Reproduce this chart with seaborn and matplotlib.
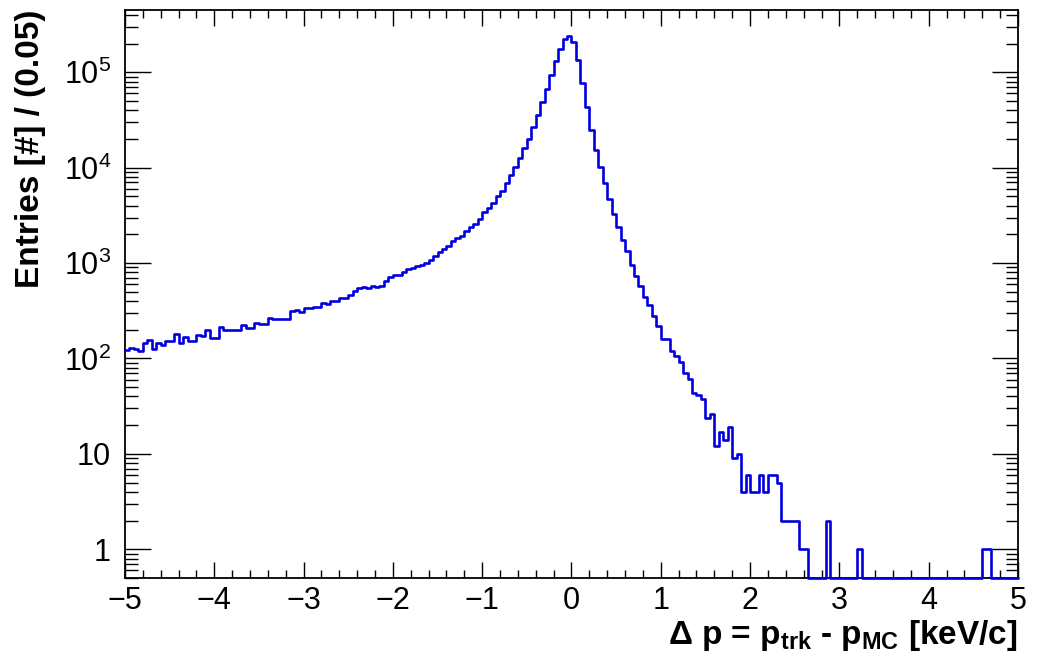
import numpy as np
import pandas as pd
import matplotlib
matplotlib.use("Agg")
import matplotlib.pyplot as plt
import seaborn as sns
from matplotlib.ticker import (MultipleLocator, FixedLocator, FixedFormatter,
                               LogLocator, NullFormatter)

# ---------------- data ----------------
bin_low, bin_high, n_bins = -5.0, 5.0, 200

# bins 0-51  (-5.00 .. -2.40)
counts_left = [124, 130, 126, 119, 146, 158, 127, 146, 140, 152,
               152, 181, 146, 169, 154, 154, 177, 171, 200, 162,
               162, 213, 201, 201, 201, 198, 225, 211, 211, 237,
               231, 231, 267, 262, 262, 262, 262, 313, 321, 305,
               340, 340, 345, 345, 383, 370, 405, 405, 432, 432,
               460, 515]
# bins 52-101 (-2.40 .. 0.10)
counts_core = [550, 564, 550, 581, 568, 572, 645, 717, 746, 758,
               809, 869, 883, 942, 949, 1005, 1088, 1180, 1310, 1410,
               1525, 1720, 1835, 1940, 2150, 2390, 2575, 2905, 3405, 3785,
               4270, 5010, 5650, 6920, 8300, 10070, 12600, 16060, 20100, 26700,
               35900, 48300, 67100, 94100, 132000, 175000, 221000, 239000, 207000, 133000]
# bins 102-199 (0.10 .. 5.00)
counts_right = [78000, 43000, 25000, 15400, 10150, 6900, 4730, 3300, 2390, 1760,
                1350, 965, 728, 572, 443, 360, 278, 218, 161, 161,
                119, 106, 92, 70, 61, 44, 41, 38, 24, 26,
                12, 17, 14, 19, 9, 10, 4, 6, 4, 4,
                6, 4, 6, 6, 5, 2, 2, 2, 2, 1,
                1, 0, 0, 0, 0, 2, 0, 0, 0, 0,
                0, 0, 1, 0, 0, 0, 0, 0, 0, 0,
                0, 0, 0, 0, 0, 0, 0, 0, 0, 0,
                0, 0, 0, 0, 0, 0, 0, 0, 0, 0,
                1, 1, 0, 0, 0, 0, 0, 0]

x_ticks = [-5, -4, -3, -2, -1, 0, 1, 2, 3, 4, 5]
x_tick_labels = ["\u22125", "\u22124", "\u22123", "\u22122", "\u22121",
                 "0", "1", "2", "3", "4", "5"]
y_ticks = [1, 10, 100, 1000, 10000, 100000]
y_tick_labels = ["1", "10", r"$\mathregular{10^{2}}$", r"$\mathregular{10^{3}}$",
                 r"$\mathregular{10^{4}}$", r"$\mathregular{10^{5}}$"]
x_title = r"$\Delta$ p = p$_{\mathbf{trk}}$ - p$_{\mathbf{MC}}$ [keV/c]"
y_title = "Entries [#] / (0.05)"

# ---------------- style ----------------
sns.set_style("ticks")
plt.rcParams["font.family"] = ["Liberation Sans", "DejaVu Sans"]
plt.rcParams["mathtext.fontset"] = "custom"
plt.rcParams["mathtext.rm"] = "Liberation Sans"
plt.rcParams["mathtext.bf"] = "Liberation Sans:bold"
plt.rcParams["mathtext.it"] = "Liberation Sans:bold"
plt.rcParams["mathtext.sf"] = "Liberation Sans"
plt.rcParams["mathtext.default"] = "bf"
for key in ["text.color", "axes.labelcolor", "xtick.color", "ytick.color",
            "axes.edgecolor"]:
    plt.rcParams[key] = "black"

counts = np.array(counts_left + counts_core + counts_right, dtype=float)
width = (bin_high - bin_low) / n_bins
centers = bin_low + width * (np.arange(n_bins) + 0.5)
y_min, y_max = 0.5, 4.5e5
df = pd.DataFrame({"dp": centers,
                   "entries": np.where(counts > 0, counts, y_min)})

fig = plt.figure(figsize=(10.4, 6.64), dpi=100)
ax = fig.add_axes([0.1202, 0.1295, 0.8586, 0.8555])

sns.histplot(data=df, x="dp", weights="entries", bins=n_bins,
             binrange=(bin_low, bin_high), element="step", fill=False,
             color="#0000dd", linewidth=1.9, ax=ax)
line = ax.lines[-1]
line.set_clip_on(False)
line.set_zorder(5)

ax.set_yscale("log")
ax.set_xlim(bin_low, bin_high)
ax.set_ylim(y_min, y_max)

ax.xaxis.set_major_locator(FixedLocator(x_ticks))
ax.xaxis.set_major_formatter(FixedFormatter(x_tick_labels))
ax.xaxis.set_minor_locator(MultipleLocator(0.2))
ax.yaxis.set_major_locator(FixedLocator(y_ticks))
ax.yaxis.set_major_formatter(FixedFormatter(y_tick_labels))
ax.yaxis.set_minor_locator(LogLocator(base=10, subs=np.arange(2, 10)))
ax.yaxis.set_minor_formatter(NullFormatter())

ax.tick_params(which="both", direction="in", top=True, right=True,
               colors="black", width=1.0, labelsize=22)
ax.xaxis.set_tick_params(which="major", length=11.3, pad=6)
ax.xaxis.set_tick_params(which="minor", length=5.5)
ax.yaxis.set_tick_params(which="major", length=18.5, pad=10)
ax.yaxis.set_tick_params(which="minor", length=9)
for lab in ax.get_yticklabels():
    lab.set_fontweight("normal")

for sp in ax.spines.values():
    sp.set_linewidth(1.3)
    sp.set_color("black")

ax.set_xlabel(x_title, fontsize=24, fontweight="bold", loc="right")
ax.xaxis.set_label_coords(1.0, -0.07)
ax.set_ylabel(y_title, fontsize=24, fontweight="bold", loc="top")
ax.yaxis.set_label_coords(-0.088, 1.0)

fig.savefig("out.png", dpi=100)
